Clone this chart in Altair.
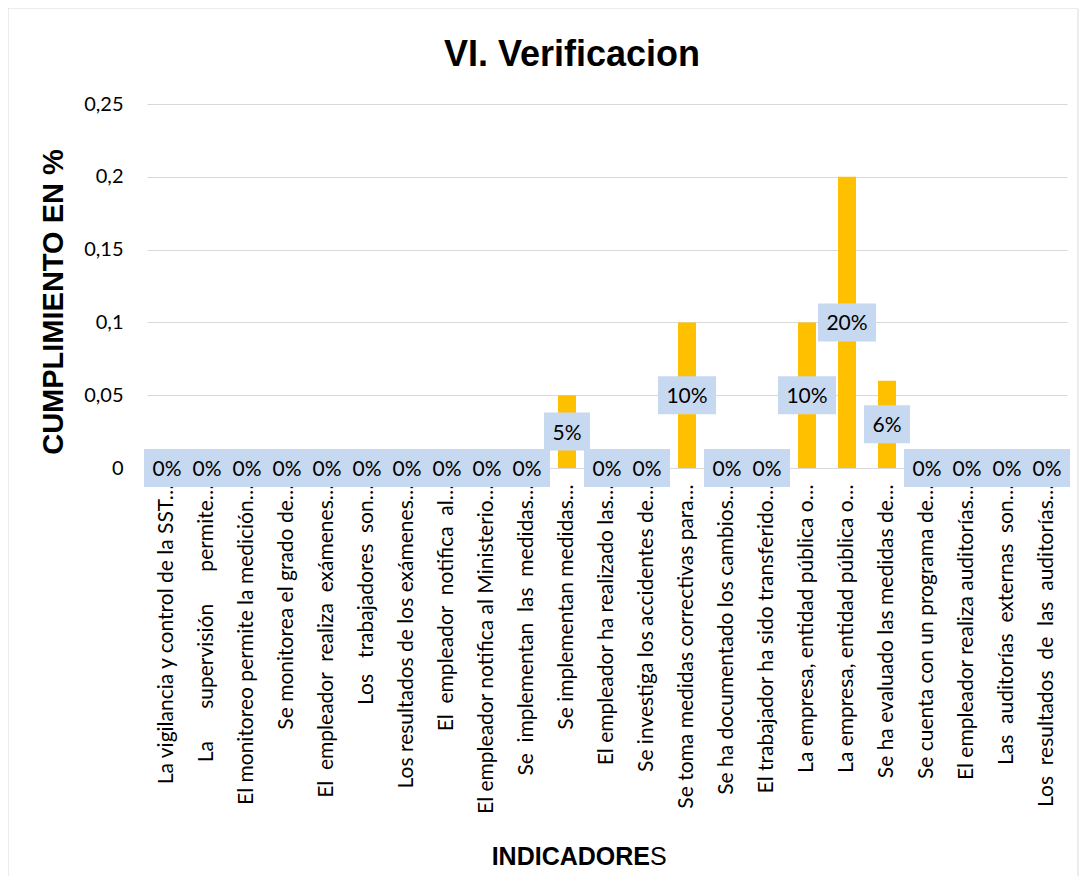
import json
import altair as alt
import pandas as pd

NB = "\u00a0"

categories = [
    "La vigilancia y control de la SST…",
    "La" + NB * 6 + "supervisión" + NB * 6 + "permite…",
    "El monitoreo permite la medición…",
    "Se monitorea el grado de…",
    "El" + NB * 2 + "empleador" + NB * 2 + "realiza" + NB * 2 + "exámenes…",
    "Los" + NB * 3 + "trabajadores" + NB * 2 + "son…",
    "Los resultados de los exámenes…",
    "El" + NB * 2 + "empleador" + NB * 2 + "notifica" + NB * 2 + "al…",
    "El empleador notifica al Ministerio…",
    "Se" + NB * 2 + "implementan" + NB * 2 + "las" + NB * 2 + "medidas…",
    "Se implementan medidas…",
    "El empleador ha realizado las…",
    "Se investiga los accidentes de…",
    "Se toma medidas correctivas para…",
    "Se ha documentado los cambios…",
    "El trabajador ha sido transferido…",
    "La empresa, entidad pública o…",
    "La empresa, entidad pública o…",
    "Se ha evaluado las medidas de…",
    "Se cuenta con un programa de…",
    "El empleador realiza auditorías…",
    "Las" + NB * 2 + "auditorías" + NB * 2 + "externas" + NB * 2 + "son…",
    "Los" + NB * 2 + "resultados" + NB * 2 + "de" + NB * 2 + "las" + NB * 2 + "auditorías…",
]
values = [0, 0, 0, 0, 0, 0, 0, 0, 0, 0, 0.05, 0, 0, 0.10, 0, 0, 0.10, 0.20, 0.06, 0, 0, 0, 0]
y_ticks = [0, 0.05, 0.10, 0.15, 0.20, 0.25]

title_text = "VI. Verificacion"
y_title = "CUMPLIMIENTO EN %"
x_title_bold = "INDICADORE"
x_title_plain = "S"

df = pd.DataFrame({
    "idx": list(range(len(categories))),
    "value": values,
    "label": [f"{round(v * 100)}%" for v in values],
})
df["mid"] = df["value"] / 2
df["wide"] = df["label"].str.len() > 2

W, H = 920, 364
FONT = "Lato"

label_expr = json.dumps(categories, ensure_ascii=False) + "[datum.value]"

x_enc = alt.X(
    "idx:O",
    scale=alt.Scale(paddingInner=0, paddingOuter=0),
    axis=alt.Axis(
        title=None, labelAngle=-90, labelExpr=label_expr, labelFont=FONT,
        labelFontSize=21, labelColor="#000000", ticks=False, domain=True,
        domainColor="#D9D9D9", labelPadding=16, labelLimit=500,
        labelOverlap=False,
    ),
)
y_scale = alt.Scale(domain=[0, 0.25], nice=False)

base = alt.Chart(df)

bars = base.mark_bar(size=18, color="#FFC000").encode(
    x=x_enc,
    y=alt.Y(
        "value:Q", scale=y_scale,
        axis=alt.Axis(
            title=None, values=y_ticks, grid=True, gridColor="#D9D9D9",
            domain=False, ticks=False, labelPadding=24, labelFont=FONT,
            labelFontSize=20, labelColor="#000000",
            labelExpr="replace(format(datum.value, '.2~f'), '.', ',')",
        ),
    ),
)

short_box = base.transform_filter("!datum.wide").mark_point(
    shape="M-1.21,-1H1.21V1H-1.21Z", size=1444, filled=True,
    color="#C6D9F1", opacity=1, strokeWidth=0,
).encode(x=x_enc, y=alt.Y("mid:Q", scale=y_scale))

wide_box = base.transform_filter("datum.wide").mark_point(
    shape="M-1.53,-1H1.53V1H-1.53Z", size=1444, filled=True,
    color="#C6D9F1", opacity=1, strokeWidth=0,
).encode(x=x_enc, y=alt.Y("mid:Q", scale=y_scale))

texts = base.mark_text(
    font=FONT, fontSize=21, color="#000000", baseline="middle", dy=2,
).encode(x=x_enc, y=alt.Y("mid:Q", scale=y_scale), text="label:N")

title = alt.Chart(pd.DataFrame({"t": [title_text]})).mark_text(
    font="Liberation Sans", fontSize=36, fontWeight="bold", color="#000000",
    baseline="middle", align="center",
).encode(x=alt.value(425), y=alt.value(-49), text="t:N")

ytitle = alt.Chart(pd.DataFrame({"t": [y_title]})).mark_text(
    font="Liberation Sans", fontSize=29, fontWeight="bold", color="#000000",
    baseline="middle", align="center", angle=270,
).encode(x=alt.value(-93), y=alt.value(198), text="t:N")

xtitle_b = alt.Chart(pd.DataFrame({"t": [x_title_bold]})).mark_text(
    font="Liberation Sans", fontSize=25, fontWeight="bold", color="#000000",
    baseline="middle", align="right",
).encode(x=alt.value(503), y=alt.value(753), text="t:N")

xtitle_p = alt.Chart(pd.DataFrame({"t": [x_title_plain]})).mark_text(
    font="Liberation Sans", fontSize=25, color="#000000",
    baseline="middle", align="left",
).encode(x=alt.value(503), y=alt.value(753), text="t:N")

border = alt.Chart(pd.DataFrame({"t": [0]})).mark_rect(
    fill=None, stroke="#D9D9D9", strokeWidth=1, cornerRadius=2,
).encode(x=alt.value(-139), x2=alt.value(931), y=alt.value(-96), y2=alt.value(774))

chart = alt.layer(
    border, bars, short_box, wide_box, texts, title, ytitle, xtitle_b, xtitle_p
).properties(
    width=W, height=H, autosize="none",
    padding={"left": 139, "top": 96, "right": 12, "bottom": 408},
    background="#FFFFFF",
).configure_view(stroke=None)

chart.save("out.html", embed_options={"renderer": "svg", "actions": False})
